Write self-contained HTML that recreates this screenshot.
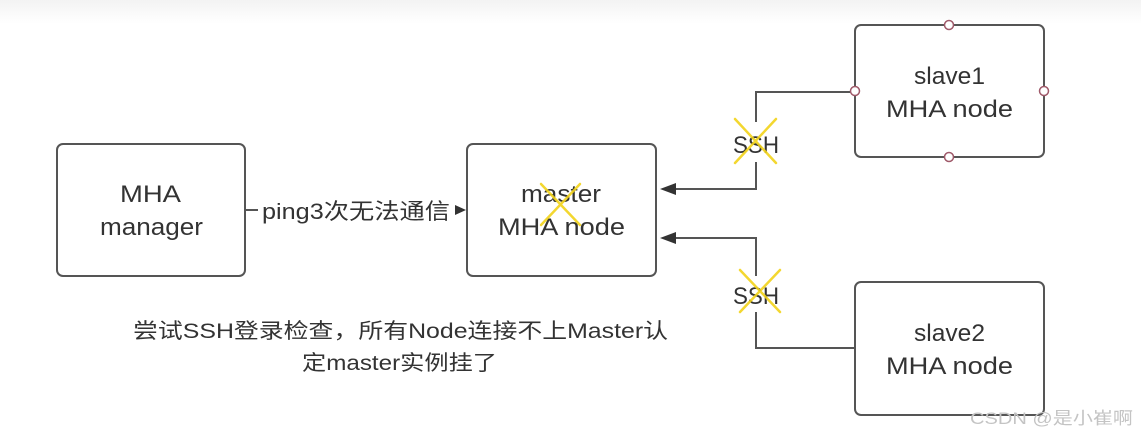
<!DOCTYPE html>
<html><head><meta charset="utf-8"><style>
html,body{margin:0;padding:0;background:#fff;}
svg{display:block;}
text{font-family:"Liberation Sans","Noto Sans CJK SC",sans-serif;fill:#333;}
</style></head><body>
<svg width="1141" height="437" viewBox="0 0 1141 437" xmlns="http://www.w3.org/2000/svg">
<defs>
<linearGradient id="g" x1="0" y1="0" x2="0" y2="1"><stop offset="0" stop-color="#f3f3f3"/><stop offset="1" stop-color="#fff"/></linearGradient>
</defs>
<rect x="0" y="0" width="1141" height="24" fill="url(#g)"/>
<g fill="none" stroke="#555" stroke-width="2">
<rect x="57" y="144" width="188" height="132" rx="6"/>
<rect x="467" y="144" width="189" height="132" rx="6"/>
<rect x="855" y="25" width="189" height="132" rx="6"/>
<rect x="855" y="282" width="189" height="133" rx="6"/>
<line x1="245" y1="210" x2="258" y2="210"/>
<polyline points="855,92 756,92 756,122"/>
<polyline points="756,162 756,189 672,189"/>
<polyline points="855,348 756,348 756,312"/>
<polyline points="756,276 756,238 672,238"/>
</g>
<g fill="#333">
<polygon points="660,189 676,183 676,195"/>
<polygon points="660,238 676,232 676,244"/>
<polygon points="466,210 455,205 455,215"/>
</g>
<g fill="#fff" stroke="#a05a6a" stroke-width="1.5">
<circle cx="949" cy="25" r="4.5"/><circle cx="949" cy="157" r="4.5"/>
<circle cx="855" cy="91" r="4.5"/><circle cx="1044" cy="91" r="4.5"/>
</g>
<g font-size="24" lengthAdjust="spacingAndGlyphs">
<text x="120" y="202" textLength="61" lengthAdjust="spacingAndGlyphs">MHA</text>
<text x="100" y="235" textLength="103" lengthAdjust="spacingAndGlyphs">manager</text>
<text x="521" y="202" textLength="80" lengthAdjust="spacingAndGlyphs">master</text>
<text x="498" y="235" textLength="127" lengthAdjust="spacingAndGlyphs">MHA node</text>
<text x="914" y="84" textLength="71" lengthAdjust="spacingAndGlyphs">slave1</text>
<text x="886" y="117" textLength="127" lengthAdjust="spacingAndGlyphs">MHA node</text>
<text x="914" y="341" textLength="71" lengthAdjust="spacingAndGlyphs">slave2</text>
<text x="886" y="374" textLength="127" lengthAdjust="spacingAndGlyphs">MHA node</text>
<text x="733" y="153" textLength="46" lengthAdjust="spacingAndGlyphs">SSH</text>
<text x="733" y="304" textLength="46" lengthAdjust="spacingAndGlyphs">SSH</text>
</g>
<text x="262" y="219" font-size="22" textLength="188" lengthAdjust="spacingAndGlyphs">ping3次无法通信</text>
<text x="133" y="338" font-size="21" textLength="535" lengthAdjust="spacingAndGlyphs">尝试SSH登录检查，所有Node连接不上Master认</text>
<text x="302" y="370" font-size="21" textLength="195" lengthAdjust="spacingAndGlyphs">定master实例挂了</text>
<text x="970" y="424" font-size="17" textLength="163" lengthAdjust="spacingAndGlyphs" style="fill:#c4c4c4">CSDN @是小崔啊</text>
<g stroke="#f2d31a" stroke-width="2.5" stroke-linecap="round" opacity="0.9">
<line x1="735" y1="119" x2="776" y2="163"/><line x1="776" y1="119" x2="735" y2="163"/>
<line x1="740" y1="270" x2="780" y2="312"/><line x1="780" y1="270" x2="740" y2="312"/>
<line x1="541" y1="184" x2="580" y2="225"/><line x1="580" y1="184" x2="541" y2="225"/>
</g>
</svg>
</body></html>
